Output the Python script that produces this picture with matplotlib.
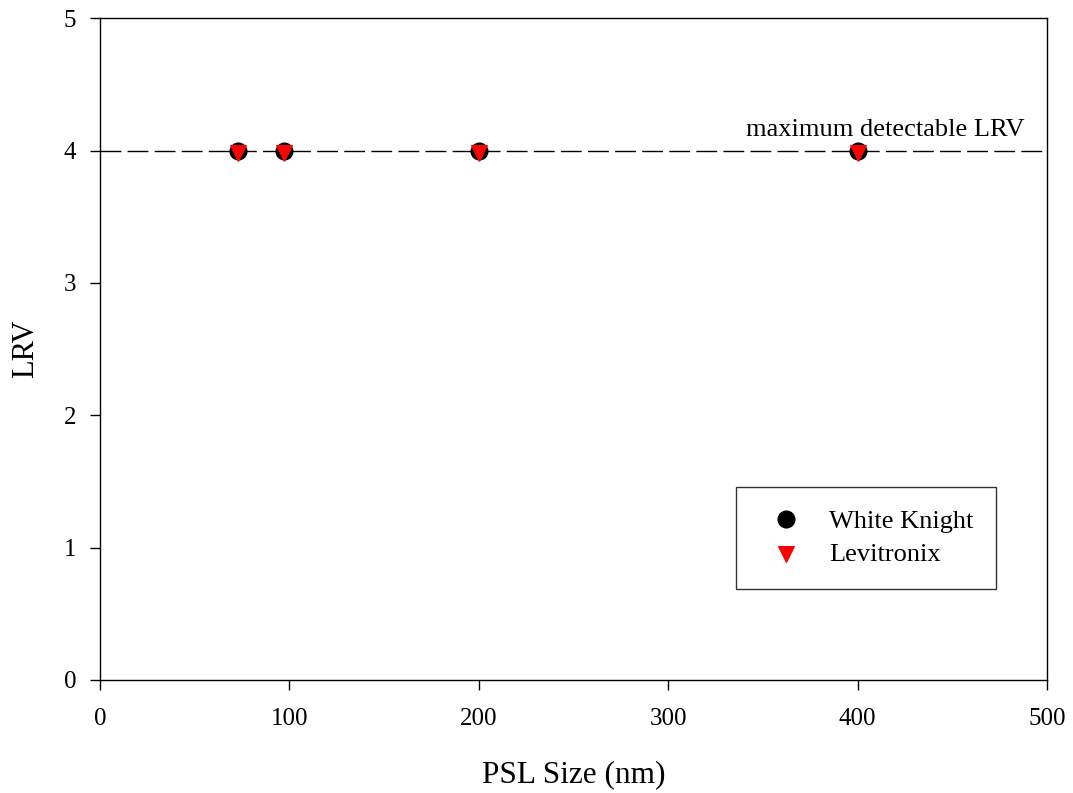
import matplotlib.pyplot as plt
from matplotlib.path import Path

plt.rcParams['font.family'] = ['Liberation Serif', 'DejaVu Serif']

# PSL particle sizes (nm) and log reduction values
psl_size = [73, 97, 200, 400]
lrv_white_knight = [4, 4, 4, 4]
lrv_levitronix = [4, 4, 4, 4]
max_lrv = 4

# downward triangle sitting slightly low on its point
tri_down = Path([(-1, 0.75), (1, 0.75), (0, -1.25), (-1, 0.75)],
                [Path.MOVETO, Path.LINETO, Path.LINETO, Path.CLOSEPOLY])

fig = plt.figure(figsize=(10.73, 7.93), dpi=100)
ax = fig.add_axes([0.0932, 0.1425, 0.8826, 0.8345])

ax.axhline(max_lrv, color='black', linewidth=1, dashes=(15, 4.5), zorder=1)
ax.text(488, max_lrv + 0.075, 'maximum detectable LRV', ha='right', va='bottom', fontsize=19)

ax.plot(psl_size, lrv_white_knight, 'o', color='black', markersize=12,
        linestyle='none', label='White Knight', zorder=3)
ax.plot(psl_size, lrv_levitronix, marker=tri_down, color='red', markersize=14,
        linestyle='none', label='Levitronix', zorder=4)

ax.set_xlim(0, 500)
ax.set_ylim(0, 5)
ax.set_xticks([0, 100, 200, 300, 400, 500])
ax.set_yticks([0, 1, 2, 3, 4, 5])
ax.tick_params(direction='out', length=7, width=1, labelsize=18)
ax.tick_params(axis='x', pad=13)
ax.tick_params(axis='y', pad=10)
for s in ax.spines.values():
    s.set_linewidth(1)

ax.set_xlabel('PSL Size (nm)', fontsize=22.5, labelpad=22)
ax.set_ylabel('LRV', fontsize=22, labelpad=17)

leg = ax.legend(loc='upper left', bbox_to_anchor=(0.6716, 0.2915), borderaxespad=0,
                fontsize=19, frameon=True, fancybox=False, edgecolor='black',
                borderpad=0.85, handlelength=2.05, handletextpad=0.64,
                labelspacing=0.38)
leg.get_frame().set_linewidth(1)

plt.savefig('out.png', dpi=100)
